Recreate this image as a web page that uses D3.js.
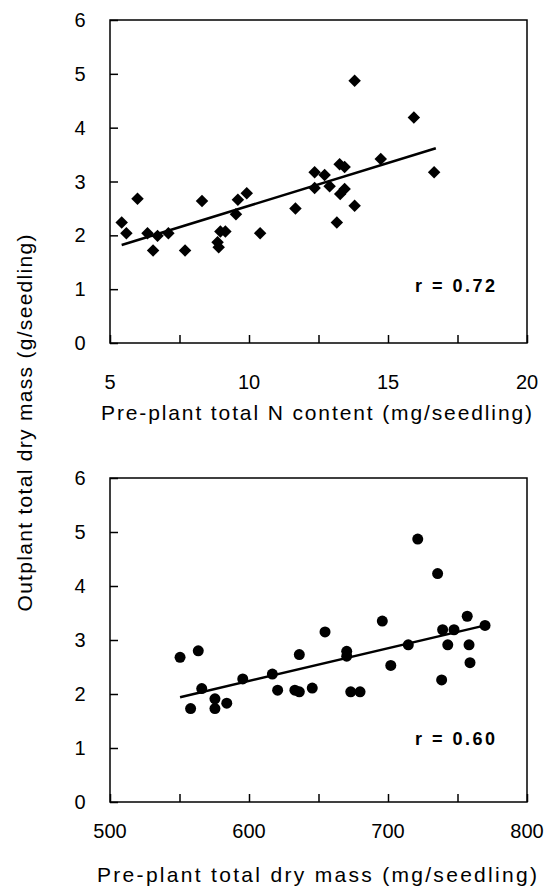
<!DOCTYPE html>
<html>
<head>
<meta charset="utf-8">
<script src="https://cdn.jsdelivr.net/npm/d3@7"></script>
<style>
  body { margin: 0; background: #fff; }
  text { font-family: "Liberation Sans", Arial, sans-serif; fill: #000; }
</style>
</head>
<body>
<div id="visual"></div>
<script>
// top panel: pre-plant N content vs outplant dry mass
var nContent = [5.42, 5.59, 5.99, 6.35, 6.55, 6.71, 7.10, 7.70, 8.31, 8.87, 8.91, 8.97, 9.15, 9.53, 9.60, 9.92,
                10.40, 11.67, 12.36, 12.36, 12.72, 12.90, 13.16, 13.26, 13.28, 13.44, 13.44, 13.80, 13.80, 14.74, 15.93, 16.66];
var nMass = [2.24, 2.04, 2.68, 2.04, 1.72, 1.99, 2.04, 1.72, 2.64, 1.87, 1.78, 2.07, 2.07, 2.39, 2.66, 2.78,
             2.04, 2.50, 3.17, 2.88, 3.12, 2.91, 2.24, 3.32, 2.77, 3.27, 2.86, 4.87, 2.55, 3.42, 4.19, 3.17];
var nFit = [5.42, 16.72];          // x range of fitted line
var nFitCoef = [0.958, 0.159];     // intercept, slope
var nR = "r = 0.72";

// bottom panel: pre-plant dry mass vs outplant dry mass
var dMassPre = [550.4, 563.5, 558, 566, 575.5, 575.5, 584, 595.5, 616.8, 620.6, 633, 636.2, 636.2, 645.5,
                654.7, 670.3, 670.3, 673.2, 679.9, 695.9, 702, 714.6, 721.4, 735.7, 739.3, 747.5, 743, 738.6,
                757, 758.3, 759, 769.8];
var dMassOut = [2.68, 2.80, 1.73, 2.10, 1.91, 1.73, 1.83, 2.28, 2.37, 2.07, 2.07, 2.04, 2.73, 2.11,
                3.15, 2.79, 2.70, 2.04, 2.04, 3.35, 2.53, 2.91, 4.87, 4.23, 3.19, 3.19, 2.91, 2.26,
                3.44, 2.91, 2.58, 3.27];
var dFit = [550.4, 770];
var dFitCoef = [-1.395, 0.00606];
var dR = "r = 0.60";

var yTicks = [0, 1, 2, 3, 4, 5, 6];
var nTicks = [5, 7.5, 10, 12.5, 15, 17.5, 20];
var nLabels = [5, 10, 15, 20];
var dTicks = [500, 550, 600, 650, 700, 750, 800];
var dLabels = [500, 600, 700, 800];

const w = 550;
const h = 894;

const svg = d3.select("#visual")
  .append("svg")
  .attr("width", w)
  .attr("height", h);

function panel(opt) {
  const x = d3.scaleLinear().domain(opt.xDomain).range([110, 527]);
  const y = d3.scaleLinear().domain([0, 6]).range([opt.bottom, opt.top]);
  const g = svg.append("g");

  // box
  g.append("rect")
    .attr("x", x.range()[0]).attr("y", opt.top)
    .attr("width", x.range()[1] - x.range()[0])
    .attr("height", opt.bottom - opt.top)
    .attr("fill", "none").attr("stroke", "#000").attr("stroke-width", 1.5);

  // inward ticks
  g.append("g")
    .attr("transform", "translate(0," + opt.bottom + ")")
    .call(d3.axisTop(x).tickValues(opt.xTicks).tickSize(8).tickFormat(""))
    .call(a => a.select(".domain").remove())
    .selectAll("line").attr("stroke-width", 1.5);
  g.append("g")
    .attr("transform", "translate(" + x.range()[0] + ",0)")
    .call(d3.axisRight(y).tickValues(yTicks).tickSize(8).tickFormat(""))
    .call(a => a.select(".domain").remove())
    .selectAll("line").attr("stroke-width", 1.5);

  // tick labels
  g.selectAll(".xl").data(opt.xLabels).enter().append("text")
    .attr("x", d => x(d)).attr("y", opt.bottom + opt.labelDy)
    .attr("text-anchor", "middle").style("font-size", "20px")
    .text(d => d);
  g.selectAll(".yl").data(yTicks).enter().append("text")
    .attr("x", 80).attr("y", d => y(d)).attr("dy", "0.35em")
    .attr("text-anchor", "middle").style("font-size", "20px")
    .text(d => d);

  // x axis title
  g.append("text")
    .attr("x", opt.titleX[0]).attr("y", opt.bottom + opt.titleDy)
    .attr("textLength", opt.titleX[1] - opt.titleX[0])
    .attr("lengthAdjust", "spacing")
    .style("font-size", "21px")
    .text(opt.title);

  // fitted line
  g.append("line")
    .attr("x1", x(opt.fit[0])).attr("y1", y(opt.coef[0] + opt.coef[1] * opt.fit[0]))
    .attr("x2", x(opt.fit[1])).attr("y2", y(opt.coef[0] + opt.coef[1] * opt.fit[1]))
    .attr("stroke", "#000").attr("stroke-width", 2.5);

  // points
  const pts = d3.zip(opt.xs, opt.ys);
  if (opt.diamond) {
    g.selectAll("path.pt").data(pts).enter().append("path")
      .attr("d", d3.symbol(d3.symbolSquare, 78))
      .attr("transform", d => "translate(" + x(d[0]) + "," + y(d[1]) + ") rotate(45)")
      .attr("fill", "#000");
  } else {
    g.selectAll("circle").data(pts).enter().append("circle")
      .attr("cx", d => x(d[0])).attr("cy", d => y(d[1]))
      .attr("r", 5.5).attr("fill", "#000");
  }

  // r label
  g.append("text")
    .attr("x", 415).attr("y", opt.rY)
    .attr("textLength", 80).attr("lengthAdjust", "spacing")
    .style("font-size", "18px").style("font-weight", "bold")
    .text(opt.r);
}

panel({ xDomain: [5, 20], top: 20, bottom: 343, xTicks: nTicks, xLabels: nLabels, labelDy: 46,
        title: "Pre-plant total N content (mg/seedling)", titleX: [101, 532], titleDy: 77,
        fit: nFit, coef: nFitCoef, xs: nContent, ys: nMass, diamond: true, r: nR, rY: 292 });

panel({ xDomain: [500, 800], top: 478, bottom: 802, xTicks: dTicks, xLabels: dLabels, labelDy: 36,
        title: "Pre-plant total dry mass (mg/seedling)", titleX: [97, 537], titleDy: 80,
        fit: dFit, coef: dFitCoef, xs: dMassPre, ys: dMassOut, diamond: false, r: dR, rY: 745 });

// shared y axis title
svg.append("text")
  .attr("transform", "translate(32,423) rotate(-90)")
  .attr("text-anchor", "middle")
  .attr("textLength", 377).attr("lengthAdjust", "spacing")
  .style("font-size", "21px")
  .text("Outplant total dry mass (g/seedling)");
</script>
</body>
</html>
